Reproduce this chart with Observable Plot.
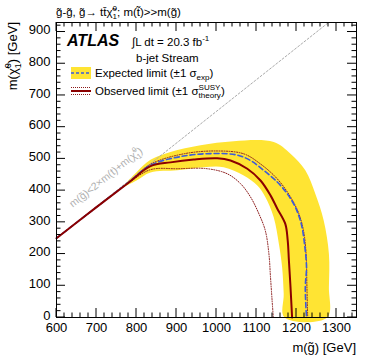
<!DOCTYPE html>
<html><head><meta charset="utf-8">
<script src="https://cdn.jsdelivr.net/npm/d3@7"></script>
<script src="https://cdn.jsdelivr.net/npm/@observablehq/plot@0.6"></script>
<style>body{margin:0;background:#fff} svg{font-family:"Liberation Sans",Arial,sans-serif}</style>
</head><body><div id="chart"></div>
<script>
// ---- data (GeV) ----
const xMajorTicks = [600,700,800,900,1000,1100,1200,1300];
const yMajorTicks = [0,100,200,300,400,500,600,700,800,900];
const xMinorTicks = d3.range(600, 1351, 20);
const yMinorTicks = d3.range(0, 931, 20);

const kinematicLimit = [[600,250],[1280,930]];

const observed = [[600,250],[700,348],[780,425],[835,477],[885,489],[943,498],[1002,502],[1035,495],[1077,469],[1110,432],[1135,385],[1152,343],[1172,295],[1178,243],[1181,180],[1185,96],[1189,0]];
const observedUp = [[600,250],[700,348],[780,426],[835,483],[918,516],[1002,525],[1068,516],[1110,484],[1152,437],[1185,380],[1206,327],[1218,270],[1224,200],[1226,100],[1228,0]];
const observedDown = [[600,250],[700,348],[780,424],[835,466],[902,469],[977,469],[1027,453],[1060,422],[1085,380],[1106,327],[1122,274],[1131,201],[1135,127],[1139,54],[1142,0]];
const expected = [[600,250],[700,348],[780,426],[835,480],[918,509],[1002,517],[1052,512],[1085,495],[1118,464],[1152,427],[1177,390],[1197,348],[1212,295],[1220,232],[1225,159],[1222,96],[1225,0]];
const bandUpper = [[765,412],[800,458],[835,497],[885,522],[960,543],[1043,556],[1143,553],[1185,516],[1222,464],[1247,390],[1268,306],[1281,201],[1281,96],[1277,0]];
const bandLower = [[1170,0],[1168,75],[1164,159],[1156,232],[1143,316],[1122,380],[1102,416],[1068,448],[1018,474],[968,474],[902,464],[835,457],[800,432],[765,410]];

const band = bandUpper.concat(bandLower);
const XY = {x: d => d[0], y: d => d[1]};
const FONT = '"Liberation Sans",Arial,sans-serif';

const chart = Plot.plot({
  width: 374, height: 361,
  marginLeft: 56, marginRight: 18, marginTop: 22, marginBottom: 44,
  style: {fontFamily: FONT, background: "white"},
  x: {domain: [600, 1350]},
  y: {domain: [0, 930]},
  marks: [
    Plot.line(band, {...XY, fill: "#ffe433", stroke: "none", curve: "catmull-rom"}),
    Plot.line(kinematicLimit, {...XY, stroke: "#aaa", strokeWidth: 1, strokeDasharray: "2,2"}),
    Plot.line(observedUp, {...XY, stroke: "#8b1a1a", strokeWidth: 1, strokeDasharray: "1,1.5", curve: "catmull-rom"}),
    Plot.line(observedDown, {...XY, stroke: "#8b1a1a", strokeWidth: 1, strokeDasharray: "1,1.5", curve: "catmull-rom"}),
    Plot.line(expected, {...XY, stroke: "#3b5bdb", strokeWidth: 1.6, strokeDasharray: "5,3", curve: "catmull-rom"}),
    Plot.line(observed, {...XY, stroke: "#8b0000", strokeWidth: 2, curve: "catmull-rom"}),
    Plot.axisX(xMajorTicks, {anchor: "bottom", tickSize: 0, tickPadding: 5, fontSize: 13, label: null, tickFormat: d => String(d)}),
    Plot.axisY(yMajorTicks, {anchor: "left", tickSize: 0, tickPadding: 6, fontSize: 13, label: null, tickFormat: d => String(d), dy: -2}),
    Plot.frame({stroke: "black", strokeWidth: 1})
  ]
});
document.getElementById("chart").appendChild(chart);

const svg = d3.select(chart);
const sx = chart.scale("x"), sy = chart.scale("y");
const X = v => sx.apply(v), Y = v => sy.apply(v);
const x0 = X(600), x1 = X(1350), y0 = Y(0), y1 = Y(930);

// inward ticks on all sides
const tg = svg.append("g").attr("stroke", "black").attr("stroke-width", 1);
xMinorTicks.forEach(v => {
  const L = v % 100 === 0 ? 9 : 4.5;
  tg.append("line").attr("x1", X(v)).attr("x2", X(v)).attr("y1", y0).attr("y2", y0 - L);
  tg.append("line").attr("x1", X(v)).attr("x2", X(v)).attr("y1", y1).attr("y2", y1 + L);
});
yMinorTicks.forEach(v => {
  const L = v % 100 === 0 ? 9 : 4.5;
  tg.append("line").attr("y1", Y(v)).attr("y2", Y(v)).attr("x1", x0).attr("x2", x0 + L);
  tg.append("line").attr("y1", Y(v)).attr("y2", Y(v)).attr("x1", x1).attr("x2", x1 - L);
});

function measure(text, size) {
  const t = svg.append("text").attr("font-size", size).attr("font-family", FONT).text(text);
  const w = t.node().getComputedTextLength(); t.remove(); return w;
}
// parts: [text] | [text,"sub"] | [text,"sup"] | [sub,"subsup",sup]
function rich(g, x, y, size, parts, attrs) {
  const t = g.append("text").attr("x", x).attr("y", y).attr("font-size", size)
    .attr("font-family", FONT).attr("text-anchor", "start");
  Object.entries(attrs || {}).forEach(([k, v]) => t.attr(k, v));
  const s = size * 0.7;
  let pendDy = 0, pendDx = 0;
  parts.forEach(p => {
    if (!p[1]) { t.append("tspan").attr("dy", pendDy).attr("dx", pendDx).text(p[0]); pendDy = 0; pendDx = 0; }
    else if (p[1] === "sub") { t.append("tspan").attr("dy", pendDy + size*0.3).attr("font-size", s).text(p[0]); pendDy = -size*0.3; }
    else if (p[1] === "sup") { t.append("tspan").attr("dy", pendDy - size*0.4).attr("font-size", s).text(p[0]); pendDy = size*0.4; }
    else if (p[1] === "subsup") {
      const wSub = measure(p[0], s), wSup = measure(p[2], s);
      t.append("tspan").attr("dy", pendDy + size*0.3).attr("font-size", s).text(p[0]);
      t.append("tspan").attr("dx", -wSub).attr("dy", -size*0.75).attr("font-size", s).text(p[2]);
      pendDx = Math.max(0, wSub - wSup); pendDy = size*0.45;
    }
  });
  return t;
}

const ag = svg.append("g").attr("fill", "black");
// title
rich(ag, 56, 16, 11.5, [["g\u0303-g\u0303, g\u0303\u2192 tt\u0304\u03c7\u0303"],["1","subsup","0"],["; m(t\u0303)>>m(g\u0303)"]]);
// ATLAS block
ag.append("text").attr("x", 67).attr("y", 46).attr("font-size", 16).attr("font-weight", "bold").attr("font-style", "italic").attr("font-family", FONT).attr("text-anchor", "start").text("ATLAS");
rich(ag, 132, 46, 11.5, [["\u222bL dt = 20.3 fb"],["-1","sup"]]);
rich(ag, 136, 62, 11.5, [["b-jet Stream"]]);
// legend
ag.append("rect").attr("x", 71).attr("y", 67).attr("width", 20).attr("height", 12).attr("fill", "#ffe433");
ag.append("line").attr("x1", 71).attr("x2", 91).attr("y1", 73).attr("y2", 73).attr("stroke", "#3b5bdb").attr("stroke-width", 1.6).attr("stroke-dasharray", "3,2");
rich(ag, 95, 77, 11.5, [["Expected limit (\u00b11 \u03c3"],["exp","sub"],[")"]]);
ag.append("line").attr("x1", 71).attr("x2", 91).attr("y1", 87.5).attr("y2", 87.5).attr("stroke", "#8b1a1a").attr("stroke-width", 1).attr("stroke-dasharray", "1,1");
ag.append("line").attr("x1", 71).attr("x2", 91).attr("y1", 91).attr("y2", 91).attr("stroke", "#8b0000").attr("stroke-width", 2);
ag.append("line").attr("x1", 71).attr("x2", 91).attr("y1", 94.5).attr("y2", 94.5).attr("stroke", "#8b1a1a").attr("stroke-width", 1).attr("stroke-dasharray", "1,1");
rich(ag, 95, 95, 11.5, [["Observed limit (\u00b11 \u03c3"],["theory","subsup","SUSY"],[")"]]);

// diagonal label
const ang = Math.atan2(Y(930) - Y(250), X(1280) - X(600)) * 180 / Math.PI;
const lx = X(730), ly = Y(432);
rich(ag, 0, 0, 10.5, [["m(g\u0303)<2\u00d7m(t)+m(\u03c7\u0303"],["1","subsup","0"],[")"]],
  {"text-anchor": "middle", fill: "#b0b0b0", transform: `translate(${lx},${ly}) rotate(${ang})`});

// axis titles
rich(ag, 0, 0, 13, [["m(\u03c7\u0303"],["1","subsup","0"],[") [GeV]"]],
  {"text-anchor": "end", transform: `translate(17,${y1}) rotate(-90)`});
ag.append("text").attr("x", x1).attr("y", 352).attr("text-anchor", "end").attr("font-size", 13).attr("font-family", FONT).text("m(g\u0303) [GeV]");
</script></body></html>
